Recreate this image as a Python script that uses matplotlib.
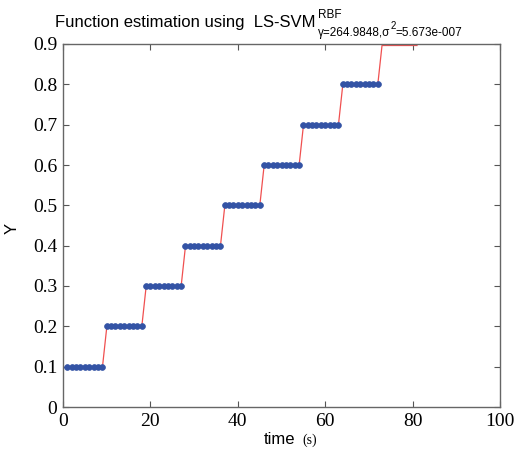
import numpy as np
import matplotlib
matplotlib.use("Agg")
import matplotlib.pyplot as plt
import matplotlib.transforms as mtransforms

# sample times (s) and the step levels of the target function
time = np.arange(1, 82)
levels = [0.1, 0.2, 0.3, 0.4, 0.5, 0.6, 0.7, 0.8, 0.9]
samples_per_level = 9
n_dotted_levels = 8  # the 0.9 samples sit on the top border and are not shown

y = np.repeat(levels, samples_per_level)
n_dots = n_dotted_levels * samples_per_level

fig = plt.figure(figsize=(5.16, 4.51), dpi=100)
ax = fig.add_axes([63 / 516, 44 / 451, 437 / 516, 363 / 451])

# nudge the estimate line 1.5 px down so the 0.9 level shows under the border
shifted = mtransforms.offset_copy(ax.transData, fig=fig, y=-1.5, units="dots")
ax.plot(time, y, color="#f05050", lw=0.9, zorder=2, clip_on=False,
        transform=shifted)
ax.plot(time[:n_dots], y[:n_dots], ls="none", marker="o", ms=4.2,
        mfc="#3353a5", mec="#3353a5", mew=0.5, zorder=3)

ax.set_xlim(0, 100)
ax.set_ylim(0, 0.9)
ax.set_xticks([0, 20, 40, 60, 80, 100])
ax.set_yticks(np.round(np.arange(0, 0.91, 0.1), 1))
ax.set_yticklabels(["0", "0.1", "0.2", "0.3", "0.4", "0.5", "0.6", "0.7", "0.8", "0.9"])
ax.tick_params(direction="in", top=True, right=True, length=4, width=0.8,
               color="#555555", labelsize=14, pad=4)
for lab in ax.get_xticklabels() + ax.get_yticklabels():
    lab.set_family("Liberation Serif")
for sp in ax.spines.values():
    sp.set_color("#666666")
    sp.set_linewidth(1.0)

# axis labels
fig.text(12 / 516, 1 - 228 / 451, "Y", family="Liberation Sans", fontsize=12,
         rotation=90, ha="center", va="center")
fig.text(295 / 516, 1 - 440 / 451, "time", family="Liberation Sans", fontsize=12,
         ha="right", va="center")
fig.text(302 / 516, 1 - 440 / 451, "(s)", family="Liberation Serif", fontsize=10,
         ha="left", va="center")

# title with super/subscript parts, laid out piece by piece
fig.text(55 / 516, 1 - 22 / 451, "Function estimation using  LS-SVM",
         family="Liberation Sans", fontsize=12, ha="left", va="center")
fig.text(318 / 516, 1 - 15 / 451, "RBF", family="Liberation Sans", fontsize=8.5,
         ha="left", va="center")

renderer = fig.canvas.get_renderer()
x0 = 318
pieces = [("γ=264.9848,σ", 8.5, 33), ("2", 7, 26), ("=5.673e-007", 8.5, 33)]
for s, fs, ypx in pieces:
    t = fig.text(x0 / 516, 1 - ypx / 451, s, family="Liberation Sans",
                 fontsize=fs, ha="left", va="center")
    x0 += t.get_window_extent(renderer).width

fig.savefig("out.png", dpi=100)
